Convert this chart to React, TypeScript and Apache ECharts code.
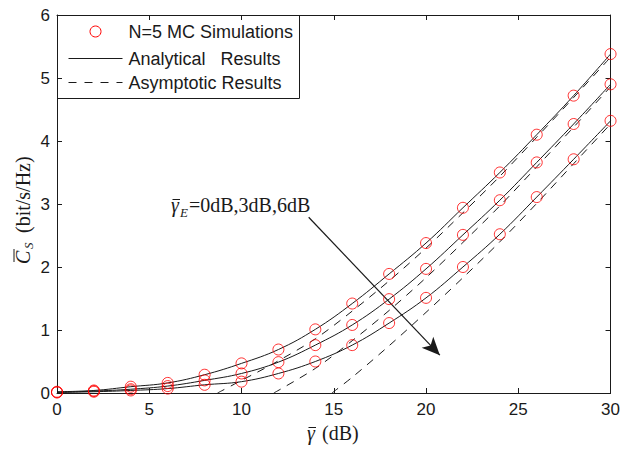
import React, { useEffect, useRef } from "react";
import * as echarts from "echarts";

// SNR values (dB)
const gammaDb = [0, 2, 4, 6, 8, 10, 12, 14, 16, 18, 20, 22, 24, 26, 28, 30];
// MC simulation / analytical results for gamma_E = 0, 3, 6 dB
const cs0dB = [0.02, 0.04, 0.10, 0.16, 0.29, 0.47, 0.69, 1.01, 1.42, 1.89, 2.38, 2.94, 3.50, 4.10, 4.72, 5.38];
const cs3dB = [0.01, 0.03, 0.06, 0.11, 0.20, 0.31, 0.49, 0.76, 1.08, 1.49, 1.97, 2.51, 3.06, 3.66, 4.27, 4.90];
const cs6dB = [0.01, 0.02, 0.04, 0.07, 0.13, 0.18, 0.31, 0.50, 0.76, 1.11, 1.51, 2.00, 2.52, 3.11, 3.71, 4.32];
// Asymptotic results (dashed); start where they leave the x-axis
const asym0X = [8.7, 10, 11.75, 14, 16, 18, 20, 22, 24, 26, 28, 30];
const asym0Y = [0, 0.2, 0.47, 0.86, 1.3, 1.78, 2.3, 2.86, 3.44, 4.06, 4.69, 5.33];
const asym3X = [11.75, 14, 16, 18, 20, 22, 24, 26, 28, 30];
const asym3Y = [0, 0.39, 0.83, 1.31, 1.83, 2.39, 2.97, 3.59, 4.22, 4.86];
const asym6X = [14.9, 16, 18, 20, 22, 24, 26, 28, 30];
const asym6Y = [0, 0.25, 0.75, 1.28, 1.83, 2.4, 3.01, 3.64, 4.27];
// Axis ticks
const xTicks = [0, 5, 10, 15, 20, 25, 30];
const yTicks = [0, 1, 2, 3, 4, 5, 6];
// Annotation arrow (data coordinates)
const arrowFrom = [13.64, 2.79];
const arrowTo = [20.75, 0.6];

const legendLabels = ["N=5 MC Simulations", "Analytical   Results", "Asymptotic Results"];

const RED = "#ff0000";
const INK = "#1a1a1a";
const SANS = "'Liberation Sans', Arial, Helvetica, sans-serif";
const SERIF = "'Liberation Serif', 'Times New Roman', serif";

function pairs(xs: number[], ys: number[]) {
  return xs.map((x, i) => [x, ys[i]]);
}

function txt(text: string, x: number, y: number, size: number, italic = false, extra: any = {}) {
  return {
    type: "text",
    x,
    y,
    z: 10,
    style: {
      text,
      fontFamily: SERIF,
      fontStyle: italic ? "italic" : "normal",
      fontSize: size,
      fill: INK,
      align: "left",
      verticalAlign: "middle",
      ...extra,
    },
  };
}

function bar(x1: number, x2: number, y: number) {
  return {
    type: "line",
    z: 10,
    shape: { x1, y1: y, x2, y2: y },
    style: { stroke: INK, lineWidth: 1 },
  };
}

export default function App() {
  const ref = useRef<HTMLDivElement>(null);
  useEffect(() => {
    document.body.style.margin = "0";
    const chart = echarts.init(ref.current!, null, { renderer: "svg" });
    const curves = [cs0dB, cs3dB, cs6dB];
    const asym = [pairs(asym0X, asym0Y), pairs(asym3X, asym3Y), pairs(asym6X, asym6Y)];
    const series: any[] = [];
    curves.forEach((c, i) => {
      series.push({
        type: "line",
        name: "Analytical " + i,
        data: pairs(gammaDb, c),
        smooth: 0.4,
        symbol: "none",
        lineStyle: { color: INK, width: 1 },
        z: 3,
        ...(i === 0
          ? {
              markLine: {
                silent: true,
                symbol: ["none", "arrow"],
                symbolSize: [12, 18],
                lineStyle: { color: INK, width: 1.2, type: "solid" },
                itemStyle: { color: INK },
                label: { show: false },
                data: [[{ coord: arrowFrom }, { coord: arrowTo }]],
              },
            }
          : {}),
      });
    });
    asym.forEach((d, i) => {
      series.push({
        type: "line",
        name: "Asymptotic " + i,
        data: d,
        smooth: 0.3,
        symbol: "none",
        lineStyle: { color: INK, width: 1, type: [8, 7] },
        z: 2,
      });
    });
    curves.forEach((c, i) => {
      series.push({
        type: "scatter",
        name: "Simulation " + i,
        data: pairs(gammaDb, c),
        symbol: "circle",
        symbolSize: 11,
        itemStyle: { color: "rgba(0,0,0,0)", borderColor: RED, borderWidth: 1 },
        z: 5,
      });
    });

    const axisCommon = {
      type: "value",
      axisLine: { show: true, onZero: false, lineStyle: { color: INK, width: 1 } },
      axisTick: { show: true, inside: true, length: 5, lineStyle: { color: INK } },
      splitLine: { show: false },
    };

    chart.setOption({
      animation: false,
      backgroundColor: "#fff",
      grid: { left: 57, right: 10, top: 15, bottom: 56, containLabel: false },
      xAxis: [
        {
          ...axisCommon,
          min: xTicks[0],
          max: xTicks[xTicks.length - 1],
          interval: 5,
          position: "bottom",
          axisLabel: { color: INK, fontSize: 17, fontFamily: SANS, margin: 8 },
        },
        {
          ...axisCommon,
          min: xTicks[0],
          max: xTicks[xTicks.length - 1],
          interval: 5,
          position: "top",
          axisLabel: { show: false },
        },
      ],
      yAxis: [
        {
          ...axisCommon,
          min: yTicks[0],
          max: yTicks[yTicks.length - 1],
          interval: 1,
          position: "left",
          axisLabel: { color: INK, fontSize: 17, fontFamily: SANS, margin: 7 },
        },
        {
          ...axisCommon,
          min: yTicks[0],
          max: yTicks[yTicks.length - 1],
          interval: 1,
          position: "right",
          axisLabel: { show: false },
        },
      ],
      graphic: [
        // x-axis title: γ̄ (dB)
        txt("γ", 307, 433, 20, true),
        bar(308.5, 316, 427.5),
        txt("(dB)", 322, 433, 20),
        // annotation: γ̄_E=0dB,3dB,6dB
        txt("γ", 171, 205, 20, true),
        bar(172.5, 180, 199.5),
        txt("E", 180, 212, 13, true),
        txt("=0dB,3dB,6dB", 189, 205, 20),
        // y-axis title: C̄_S (bit/s/Hz), rotated
        {
          type: "group",
          x: 30,
          y: 264,
          rotation: Math.PI / 2,
          children: [
            txt("C", 0, -7, 20, true),
            bar(2, 15, -16),
            txt("S", 15, -2, 13, true),
            txt("(bit/s/Hz)", 31, -7, 20),
          ],
        },
        // legend
        {
          type: "group",
          left: 57,
          top: 15,
          z: 20,
          children: [
            {
              type: "rect",
              shape: { x: 0, y: 0, width: 242, height: 83 },
              style: { fill: "#fff", stroke: INK, lineWidth: 1 },
            },
            {
              type: "circle",
              shape: { cx: 38, cy: 16, r: 5.5 },
              style: { fill: "none", stroke: RED, lineWidth: 1 },
            },
            {
              type: "line",
              shape: { x1: 11, y1: 43, x2: 65, y2: 43 },
              style: { stroke: INK, lineWidth: 1 },
            },
            {
              type: "line",
              shape: { x1: 11, y1: 67, x2: 65, y2: 67 },
              style: { stroke: INK, lineWidth: 1, lineDash: [8, 8] },
            },
            ...legendLabels.map((t, i) => ({
              type: "text",
              x: 71,
              y: [16, 43, 67][i],
              style: {
                text: t,
                fontFamily: SANS,
                fontSize: 18,
                fill: INK,
                verticalAlign: "middle",
                align: "left",
              },
            })),
          ],
        },
      ],
      series,
    });
    return () => chart.dispose();
  }, []);
  return <div ref={ref} style={{ width: 623, height: 449 }} />;
}
